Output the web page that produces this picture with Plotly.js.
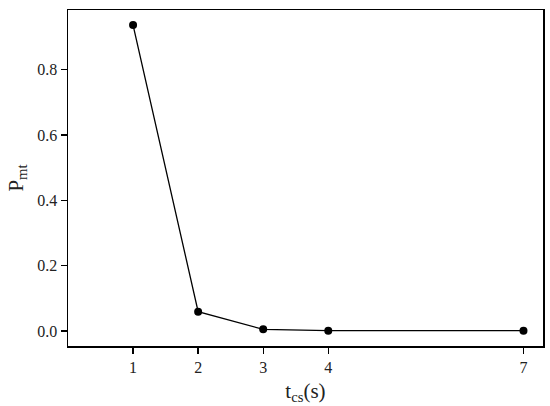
<!DOCTYPE html>
<html>
<head>
<meta charset="utf-8">
<script src="https://cdn.plot.ly/plotly-3.0.1.min.js"></script>
<style>
  body { margin: 0; background: #fff; }
  #chart { width: 550px; height: 406px; }
</style>
</head>
<body>
<div id="chart"></div>
<script>
// t_cs (s) and P_mt
const tcs = [1, 2, 3, 4, 7];
const pmt = [0.937, 0.059, 0.005, 0.001, 0.001];
const xTicks = [1, 2, 3, 4, 7];
const yTicks = [0, 0.2, 0.4, 0.6, 0.8];

const serif = 'Times New Roman, Liberation Serif, serif';

const trace = {
    x: tcs,
    y: pmt,
    type: 'scatter',
    mode: 'lines+markers',
    line: { color: '#000', width: 1.3 },
    marker: { color: '#000', size: 8 },
    showlegend: false
};

const axisStyle = {
    showline: true,
    mirror: true,
    linecolor: '#000',
    linewidth: 1.5,
    ticks: 'outside',
    ticklen: 6,
    tickwidth: 1.3,
    tickcolor: '#000',
    showgrid: false,
    zeroline: false,
    tickfont: { family: serif, size: 16, color: '#222' }
};

const layout = {
    width: 550,
    height: 406,
    margin: { t: 10, r: 7, b: 60, l: 68 },
    paper_bgcolor: '#fff',
    plot_bgcolor: '#fff',
    font: { family: serif, color: '#222' },
    xaxis: Object.assign({}, axisStyle, {
        range: [0, 7.3],
        tickmode: 'array',
        tickvals: xTicks,
        ticktext: xTicks.map(String),
        title: {
            text: 't<sub>cs</sub>(s)',
            font: { family: serif, size: 21, color: '#222' },
            standoff: 8
        }
    }),
    yaxis: Object.assign({}, axisStyle, {
        range: [-0.046, 0.983],
        tickmode: 'array',
        tickvals: yTicks,
        ticktext: yTicks.map(v => v.toFixed(1)),
        title: {
            text: 'P<sub>mt</sub>',
            font: { family: serif, size: 21, color: '#222' },
            standoff: 8
        }
    })
};

Plotly.newPlot('chart', [trace], layout, { displayModeBar: false, staticPlot: true });
</script>
</body>
</html>
